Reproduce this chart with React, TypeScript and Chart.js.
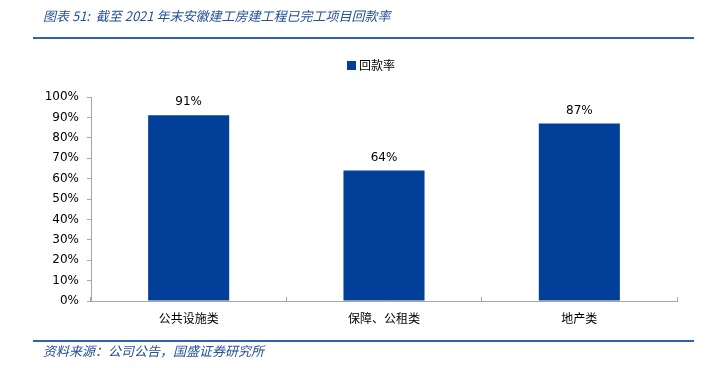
import React, { useEffect, useRef } from "react";
import { Chart, registerables } from "chart.js";

Chart.register(...registerables);

const categories = ["公共设施类", "保障、公租类", "地产类"];
const seriesName = "回款率";
const values = [91, 64, 87];
const yTicks = [0, 10, 20, 30, 40, 50, 60, 70, 80, 90, 100];
const titleText = "图表 51:  截至 2021 年末安徽建工房建工程已完工项目回款率";
const sourceText = "资料来源：公司公告，国盛证券研究所";

const BAR_COLOR = "#023f98";
const LINE_BLUE = "#2f63ad";
const TITLE_BLUE = "#24509a";
const AXIS_GRAY = "#a6a6a6";
const CJK = '"Noto Sans CJK SC", sans-serif';
const LATIN = '"DejaVu Sans", sans-serif';

const decorPlugin = {
  id: "decor",
  afterDraw(chart: any) {
    const ctx = chart.ctx;
    ctx.save();
    // title
    ctx.fillStyle = TITLE_BLUE;
    ctx.font = `italic 13px ${CJK}`;
    ctx.textBaseline = "middle";
    ctx.textAlign = "left";
    ctx.fillText(titleText, 43, 16.5);
    // top rule
    ctx.fillStyle = LINE_BLUE;
    ctx.fillRect(33, 37, 661, 2);
    // bottom rule
    ctx.fillRect(33, 340, 661, 2);
    // source
    ctx.fillStyle = TITLE_BLUE;
    ctx.font = `italic 13px ${CJK}`;
    ctx.fillText(sourceText, 43, 351);
    // legend
    const ds = chart.data.datasets[0];
    ctx.fillStyle = ds.backgroundColor;
    ctx.fillRect(347, 61, 9, 9);
    ctx.fillStyle = "#000";
    ctx.font = `12px ${CJK}`;
    ctx.fillText(ds.label, 359, 65.5);
    ctx.restore();
  },
};

const valueLabelPlugin = {
  id: "valueLabels",
  afterDatasetsDraw(chart: any) {
    const ctx = chart.ctx;
    const meta = chart.getDatasetMeta(0);
    const data = chart.data.datasets[0].data;
    ctx.save();
    ctx.fillStyle = "#000";
    ctx.font = `12px ${LATIN}`;
    ctx.textAlign = "center";
    ctx.textBaseline = "middle";
    meta.data.forEach((bar: any, i: number) => {
      ctx.fillText(`${data[i]}%`, bar.x, bar.y - 13);
    });
    ctx.restore();
  },
};

export default function App() {
  const ref = useRef<HTMLCanvasElement | null>(null);
  useEffect(() => {
    if (!ref.current) return;
    const chart = new Chart(ref.current, {
      type: "bar",
      data: {
        labels: categories,
        datasets: [
          {
            label: seriesName,
            data: values,
            backgroundColor: BAR_COLOR,
            borderWidth: 0,
            barPercentage: 1,
            categoryPercentage: 0.415,
          },
        ],
      },
      options: {
        responsive: false,
        animation: false,
        devicePixelRatio: 1,
        layout: { padding: { top: 97, right: 28, bottom: 0, left: 0 } },
        plugins: {
          legend: { display: false },
          title: { display: false },
          tooltip: { enabled: false },
        },
        scales: {
          x: {
            offset: true,
            grid: {
              offset: true,
              drawOnChartArea: false,
              drawTicks: true,
              tickLength: -4,
              color: AXIS_GRAY,
            },
            border: { color: AXIS_GRAY, width: 1 },
            ticks: {
              color: "#000",
              font: { family: CJK, size: 12 },
              padding: 14,
              maxRotation: 0,
            },
            afterFit: (s: any) => {
              s.height = 67;
            },
          },
          y: {
            min: 0,
            max: 100,
            afterBuildTicks: (s: any) => {
              s.ticks = yTicks.map((v) => ({ value: v }));
            },
            grid: {
              drawOnChartArea: false,
              drawTicks: true,
              tickLength: 4,
              color: AXIS_GRAY,
            },
            border: { color: AXIS_GRAY, width: 1 },
            ticks: {
              color: "#000",
              font: { family: LATIN, size: 12 },
              padding: 8,
              callback: (v: any) => `${v}%`,
            },
            afterFit: (s: any) => {
              s.width = 91;
            },
          },
        },
      },
      plugins: [decorPlugin, valueLabelPlugin],
    });
    return () => chart.destroy();
  }, []);
  return (
    <div style={{ position: "absolute", left: 0, top: 0, width: 705, height: 368, background: "#fff" }}>
      <canvas ref={ref} width={705} height={368} style={{ display: "block" }} />
    </div>
  );
}
